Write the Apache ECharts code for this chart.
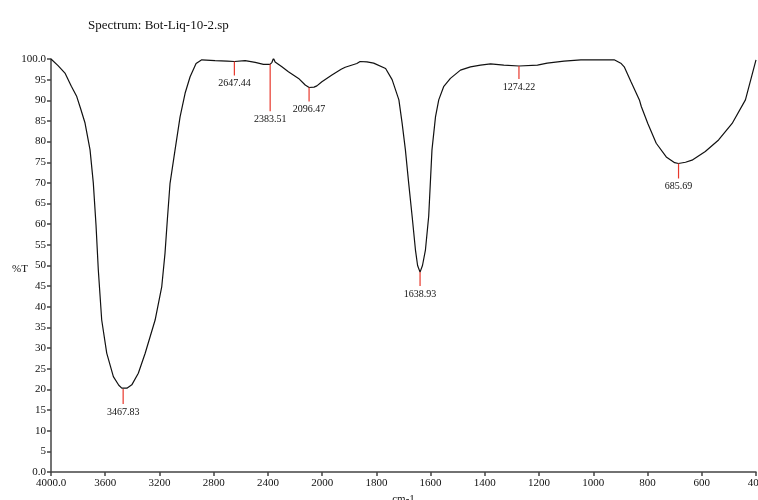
<!DOCTYPE html>
<html>
<head>
<meta charset="utf-8">
<script src="https://cdn.jsdelivr.net/npm/echarts@6/dist/echarts.min.js"></script>
<style>
  html, body { margin: 0; padding: 0; background: #fff; }
  #chart { width: 758px; height: 500px; }
</style>
</head>
<body>
<div id="chart"></div>
<script>
// wavenumbers (cm-1) and transmittance (%T)
const waveNumbers = [4000, 3948, 3897, 3850, 3810, 3779, 3749, 3712, 3688, 3668, 3651, 3626, 3589, 3540, 3500, 3478, 3468, 3440, 3404, 3356, 3306, 3232, 3183, 3159, 3142, 3122, 3085, 3048, 3011, 2974, 2930, 2913, 2888, 2790, 2700, 2647, 2568, 2494, 2433, 2384, 2370, 2359, 2347, 2297, 2249, 2174, 2125, 2096, 2060, 2039, 2002, 1964, 1930, 1915, 1872, 1860, 1835, 1810, 1766, 1742, 1717, 1705, 1693, 1681, 1668, 1656, 1648, 1639, 1630, 1619, 1607, 1595, 1582, 1570, 1552, 1527, 1490, 1453, 1416, 1379, 1330, 1274, 1206, 1170, 1108, 1046, 923, 897, 886, 861, 830, 823, 799, 768, 731, 700, 686, 660, 636, 587, 538, 488, 439, 400];
const transmittance = [100, 98.4, 96.6, 93.4, 90.9, 87.7, 84.5, 78, 70, 59.8, 48.9, 36.8, 28.8, 23.1, 21, 20.3, 20.1, 20.3, 21.1, 23.9, 28.7, 36.8, 44.9, 53, 61, 69.9, 78, 86, 91.7, 95.7, 98.9, 99.3, 99.8, 99.6, 99.5, 99.4, 99.6, 99.2, 98.7, 98.7, 99.2, 100.2, 99.3, 98.1, 96.9, 95.3, 93.7, 93.1, 93.2, 93.5, 94.5, 96.1, 97.5, 98, 98.9, 99.4, 99.3, 99, 97.7, 95, 90.1, 84.4, 78, 70, 61.8, 53.8, 50, 48.4, 50, 53.8, 62, 78, 86, 90.1, 93.3, 95.3, 97.3, 98.1, 98.5, 98.8, 98.5, 98.3, 98.5, 99, 99.5, 99.8, 99.8, 98.9, 98.1, 94.5, 90.1, 88.5, 84.4, 79.6, 76.3, 74.9, 74.7, 75, 75.5, 77.6, 80.4, 84.4, 90.1, 99.8];

// labelled peaks
const peakWaves = [3467.83, 2647.44, 2383.51, 2096.47, 1638.93, 1274.22, 685.69];
const peakValues = [20.1, 99.4, 98.7, 93.1, 48.4, 98.3, 74.7];
const peakLabels = ['3467.83', '2647.44', '2383.51', '2096.47', '1638.93', '1274.22', '685.69'];
const peakTickLen = [15, 14, 47, 14, 14, 13, 15];

// x axis ticks: 4000..2000 every 400, then 2000..400 every 200 (scale changes at 2000)
const xTickLabels = ['4000.0', '3600', '3200', '2800', '2400', '2000', '1800', '1600', '1400', '1200', '1000', '800', '600', '400'];

// split scale: above 2000 cm-1 the axis is compressed by 2
function toAxis(wn) {
  return wn >= 2000 ? (4000 - wn) / 2 : 1000 + (2000 - wn);
}

const serif = '"Liberation Serif", "DejaVu Serif", serif';

const lineData = waveNumbers.map((wn, i) => [toAxis(wn), transmittance[i]]);
const peakData = peakWaves.map((wn, i) => [toAxis(wn), peakValues[i], peakTickLen[i]]);

const option = {
  animation: false,
  backgroundColor: '#fff',
  title: {
    text: 'Spectrum: Bot-Liq-10-2.sp',
    left: 83,
    top: 14,
    textStyle: { fontFamily: serif, fontSize: 13, fontWeight: 'normal', color: '#111' }
  },
  graphic: [{
    type: 'text',
    left: 12,
    top: 264,
    style: { text: '%T', font: '11px ' + serif, fill: '#111' }
  }],
  grid: { left: 51, right: 2, top: 59, bottom: 28, outerBoundsMode: 'none' },
  xAxis: {
    type: 'value',
    min: 0,
    max: 2600,
    interval: 200,
    name: 'cm-1',
    nameLocation: 'middle',
    nameGap: 20,
    nameTextStyle: { fontFamily: serif, fontSize: 11, color: '#111' },
    splitLine: { show: false },
    axisLine: { lineStyle: { color: '#444', width: 1.5 } },
    axisTick: { length: 4, lineStyle: { color: '#444', width: 1.5 } },
    axisLabel: {
      fontFamily: serif,
      fontSize: 11,
      color: '#111',
      margin: 6,
      showMinLabel: true,
      showMaxLabel: true,
      formatter: v => xTickLabels[Math.round(v / 200)]
    }
  },
  yAxis: {
    type: 'value',
    min: 0,
    max: 100,
    interval: 5,
    splitLine: { show: false },
    axisLine: { show: true, lineStyle: { color: '#444', width: 1.5 } },
    axisTick: { show: true, length: 4, lineStyle: { color: '#444', width: 1.5 } },
    axisLabel: {
      fontFamily: serif,
      fontSize: 11,
      color: '#111',
      margin: 5,
      formatter: v => (v === 0 || v === 100) ? v.toFixed(1) : String(v)
    }
  },
  series: [
    {
      type: 'line',
      data: lineData,
      showSymbol: false,
      lineStyle: { color: '#111', width: 1.2 },
      z: 3
    },
    {
      type: 'custom',
      data: peakData,
      z: 4,
      renderItem: function (params, api) {
        const p = api.coord([api.value(0), api.value(1)]);
        const len = api.value(2);
        return {
          type: 'group',
          children: [
            {
              type: 'line',
              shape: { x1: p[0], y1: p[1], x2: p[0], y2: p[1] + len },
              style: { stroke: '#e8382c', lineWidth: 1.2 }
            },
            {
              type: 'text',
              style: {
                x: p[0],
                y: p[1] + len + 3,
                text: peakLabels[params.dataIndex],
                font: '10px ' + serif,
                fill: '#111',
                align: 'center',
                verticalAlign: 'top'
              }
            }
          ]
        };
      }
    }
  ]
};

const chart = echarts.init(document.getElementById('chart'));
chart.setOption(option);
</script>
</body>
</html>
